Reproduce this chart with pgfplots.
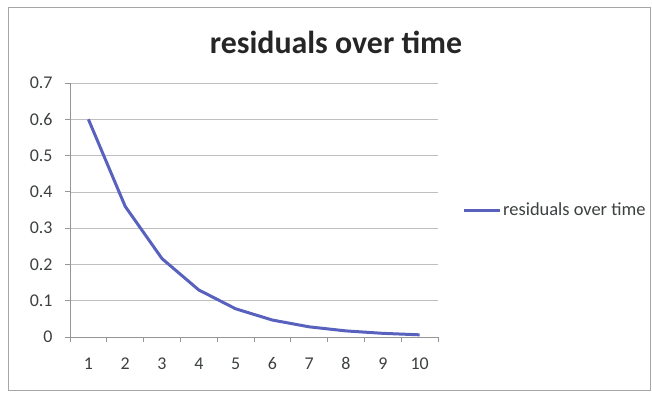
\documentclass[border=0pt]{standalone}
\usepackage{pgfplots}
\pgfplotsset{compat=1.18}
\usepackage{fontspec}
\setmainfont{Carlito}
\definecolor{serie}{RGB}{88,98,190}
\definecolor{grid}{RGB}{150,150,150}
\definecolor{lbl}{RGB}{60,64,64}
\begin{document}
\begin{tikzpicture}[x=1bp,y=1bp]
\path[use as bounding box] (-70,-55) rectangle (582,337);
\draw[gray!70, line width=0.8bp] (-62,-53) rectangle (580,330);
\begin{axis}[
  at={(0,0)}, anchor=south west,
  scale only axis, width=368bp, height=254bp,
  xmin=0.5, xmax=10.5, ymin=0, ymax=0.7,
  xtick={1,...,10},
  minor xtick={0.5,1.5,...,10.5},
  ytick={0,0.1,...,0.7},
  yticklabels={0,0.1,0.2,0.3,0.4,0.5,0.6,0.7},
  xmajorgrids=false, xminorgrids=false, ymajorgrids=true,
  grid style={grid, line width=0.6bp},
  axis x line*=bottom, axis y line*=left,
  axis line style={grid, line width=0.8bp, -},
  major x tick style={draw=none},
  minor x tick style={grid, line width=0.8bp},
  ytick style={grid, line width=0.8bp},
  major tick length=5bp, minor tick length=5bp, tick align=outside,
  tick label style={font=\fontsize{18}{20}\selectfont, text=lbl},
  xticklabel style={yshift=-12bp},
  yticklabel style={xshift=-9bp},
  /pgf/number format/assume math mode=true,
  legend style={at={(1,0.5)}, anchor=west, xshift=24bp, draw=none, fill=none,
    font=\fontsize{18.5}{20}\selectfont, text=lbl, inner sep=0pt},
  legend cell align=left,
  legend image code/.code={\draw[#1] (0bp,0bp) -- (36bp,0bp);},
  clip=false,
]
\addplot[serie, line width=3bp, line join=round] coordinates {
(1,0.6) (2,0.36) (3,0.216) (4,0.1296) (5,0.0778) (6,0.0467) (7,0.028) (8,0.0168) (9,0.0101) (10,0.006)};
\addlegendentry{residuals over time}
\end{axis}
\node[font=\bfseries\fontsize{32}{36}\selectfont, text=black!85] at (266,295) {residuals over time};
\end{tikzpicture}
\end{document}
